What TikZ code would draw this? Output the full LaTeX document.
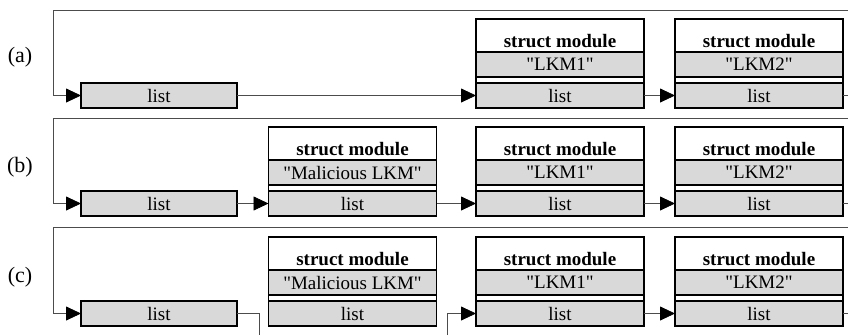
\documentclass[tikz,border=0pt]{standalone}
\usepackage{fontspec}
\setmainfont{Liberation Serif}[Ligatures=TeXOff]
\usepackage{tikz}
\usetikzlibrary{arrows.meta,positioning}

\begin{document}
\begin{tikzpicture}[x=1pt,y=-1pt,font=\fontsize{19}{21}\selectfont]
\tikzstyle{hdr}=[draw, line width=1.6pt, minimum width=168pt, text height=24pt, text depth=0pt, inner ysep=4.5pt, inner xsep=0pt, outer sep=0pt, font=\fontsize{19}{21}\selectfont\bfseries]
\tikzstyle{row}=[draw, line width=1.6pt, fill=gray!30, minimum width=168pt, minimum height=25pt, inner sep=0pt, outer sep=0pt]
\tikzstyle{head}=[row, minimum width=156pt]
\tikzstyle{tag}=[font=\fontsize{22}{24}\selectfont]
\tikzstyle{frame}=[draw, line width=1.6pt]
\tikzstyle{link}=[draw=black!70, line width=0.8pt]
\tikzstyle{arr}=[link, -{Triangle[length=15pt,width=14pt,color=black]}]
\useasboundingbox (0,0) rectangle (848,335);

% (a)
\node[tag] (laba) at (20,57) {(a)};
\node[head] (heada) at (159,95.5) {list};
\node[hdr] (m1a) at (560,35.5) {struct module};
\node[row, below=0pt of m1a] (n1a) {"LKM1"};
\node[row, below=6pt of n1a] (l1a) {list};
\draw[frame] (m1a.north west) rectangle (l1a.south east);
\node[hdr] (m2a) at (759,35.5) {struct module};
\node[row, below=0pt of m2a] (n2a) {"LKM2"};
\node[row, below=6pt of n2a] (l2a) {list};
\draw[frame] (m2a.north west) rectangle (l2a.south east);
\coordinate (topa) at (848,10);
\coordinate (loopa) at (53,95.5);
\coordinate (enda) at (848,95.5);
\draw[arr] (topa) -| (loopa) -- (heada);
\draw[arr] (heada) -- (l1a);
\draw[arr] (l1a) -- (l2a);
\draw[link] (l2a) -- (enda);

% (b)
\node[tag] (labb) at (20,167) {(b)};
\node[head] (headb) at (159,203.5) {list};
\node[hdr] (mxb) at (352.5,143.5) {struct module};
\node[row, below=0pt of mxb] (nxb) {"Malicious LKM"};
\node[row, below=6pt of nxb] (lxb) {list};
\draw[frame] (mxb.north west) rectangle (lxb.south east);
\node[hdr] (m1b) at (560,143.5) {struct module};
\node[row, below=0pt of m1b] (n1b) {"LKM1"};
\node[row, below=6pt of n1b] (l1b) {list};
\draw[frame] (m1b.north west) rectangle (l1b.south east);
\node[hdr] (m2b) at (759,143.5) {struct module};
\node[row, below=0pt of m2b] (n2b) {"LKM2"};
\node[row, below=6pt of n2b] (l2b) {list};
\draw[frame] (m2b.north west) rectangle (l2b.south east);
\coordinate (topb) at (848,118);
\coordinate (loopb) at (53,203.5);
\coordinate (endb) at (848,203.5);
\draw[arr] (topb) -| (loopb) -- (headb);
\draw[arr] (headb) -- (lxb);
\draw[arr] (lxb) -- (l1b);
\draw[arr] (l1b) -- (l2b);
\draw[link] (l2b) -- (endb);

% (c)
\node[tag] (labc) at (20,277) {(c)};
\node[head] (headc) at (159,313.5) {list};
\node[hdr] (mxc) at (352.5,253.5) {struct module};
\node[row, below=0pt of mxc] (nxc) {"Malicious LKM"};
\node[row, below=6pt of nxc] (lxc) {list};
\draw[frame] (mxc.north west) rectangle (lxc.south east);
\node[hdr] (m1c) at (560,253.5) {struct module};
\node[row, below=0pt of m1c] (n1c) {"LKM1"};
\node[row, below=6pt of n1c] (l1c) {list};
\draw[frame] (m1c.north west) rectangle (l1c.south east);
\node[hdr] (m2c) at (759,253.5) {struct module};
\node[row, below=0pt of m2c] (n2c) {"LKM2"};
\node[row, below=6pt of n2c] (l2c) {list};
\draw[frame] (m2c.north west) rectangle (l2c.south east);
\coordinate (topc) at (848,227);
\coordinate (loopc) at (53,313.5);
\coordinate (endc) at (848,313.5);
\coordinate (downc) at (259,335);
\coordinate (upc) at (447,335);
\draw[arr] (topc) -| (loopc) -- (headc);
\draw[link] (headc) -| (downc);
\draw[arr] (upc) |- (l1c);
\draw[arr] (l1c) -- (l2c);
\draw[link] (l2c) -- (endc);
\end{tikzpicture}
\end{document}
